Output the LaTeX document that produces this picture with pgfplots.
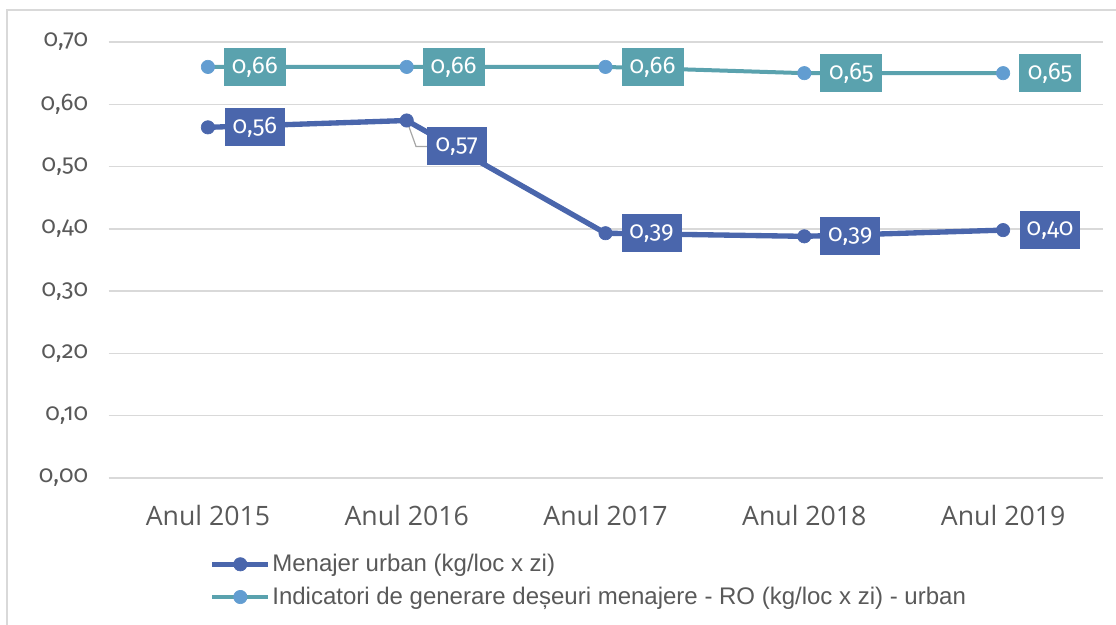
\documentclass[border=0pt]{standalone}
\usepackage{pgfplots}
\pgfplotsset{compat=1.18}
\usepackage{pgfplotstable}
\usepackage{fontspec}
\setmainfont{Liberation Sans}
\newfontfamily\numfont[Numbers=OldStyle]{Fira Sans}
\newfontfamily\catfont{Open Sans}
\definecolor{menblue}{HTML}{4A66AC}
\definecolor{indteal}{HTML}{5AA2AE}
\definecolor{indmark}{HTML}{629DD1}
\definecolor{gridgray}{HTML}{D9D9D9}
\definecolor{textgray}{HTML}{595959}
\definecolor{leadgray}{HTML}{A6A6A6}

\pgfplotstableread{
x y dx dy
0 0.563 35.25 0
1 0.574 37.5 -19.5
2 0.393 34.5 0
3 0.388 34.5 0
4 0.398 35.25 0
}\menajer
\pgfplotstableread{
x y dx dy
0 0.66 35.25 0
1 0.66 35.25 0
2 0.66 35.25 0
3 0.65 35.25 0
4 0.65 35.25 0
}\indicator

\begin{document}
\begin{tikzpicture}
\useasboundingbox (0,0) rectangle (837pt,-468pt);
\begin{scope}
\clip (0,0) rectangle (837pt,-468pt);
\draw[color=gridgray, line width=1.1pt] (5.25pt,-480pt) -- (5.25pt,-7.5pt) -- (850pt,-7.5pt);
\end{scope}
\begin{axis}[
  at={(81.375pt,-358.5pt)}, anchor=south west,
  scale only axis, width=745.5pt, height=327pt,
  xmin=-0.5, xmax=4.5, ymin=0, ymax=0.7,
  axis line style={draw=none},
  major tick style={draw=none},
  ytick={0,0.1,0.2,0.3,0.4,0.5,0.6,0.7},
  ymajorgrids,
  grid style={color=gridgray, line width=1.1pt},
  xtick={0,1,2,3,4},
  xticklabels={Anul 2015,Anul 2016,Anul 2017,Anul 2018,Anul 2019},
  xticklabel style={font=\catfont\fontsize{20}{23}\selectfont, text=textgray, anchor=north, inner sep=0pt, yshift=-20.5pt},
  yticklabel style={font=\numfont\fontsize{18}{21}\selectfont, text=textgray, anchor=east, inner sep=0pt, xshift=-15pt},
  clip=false,
  legend style={at={(0.1015,-0.172)}, anchor=north west, draw=none, fill=none, inner sep=0pt,
    row sep=8pt, column sep=0pt, cells={anchor=west},
    nodes={inner sep=1pt, text=textgray},
    font=\fontsize{18}{20}\selectfont},
  legend image code/.code={\draw[mark repeat=2,mark phase=2] plot coordinates {(0pt,0pt) (21pt,0pt) (42pt,0pt)};},
  /pgf/number format/fixed,
  /pgf/number format/fixed zerofill,
  /pgf/number format/precision=2,
  /pgf/number format/use comma,
  /pgf/number format/assume math mode=true,
]
\draw[color=leadgray, line width=0.9pt] (axis cs:1,0.574) -- ++(7pt,-19.5pt) -- ++(8.5pt,0pt);
\addplot[color=menblue, line width=4pt, mark=*, mark size=5pt,
  mark options={fill=menblue, draw=menblue, line width=0.5pt},
  point meta=explicit,
  visualization depends on={\thisrow{dx} \as \dx},
  visualization depends on={\thisrow{dy} \as \dy},
  nodes near coords,
  every node near coord/.append style={anchor=center, xshift=\dx pt, yshift=\dy pt,
    fill=menblue, text=white, font=\numfont\fontsize{18}{21}\selectfont,
    minimum width=45pt, minimum height=28.5pt, inner sep=0pt},
] table[x=x, y=y, meta=y] {\menajer};
\addlegendentry{Menajer urban (kg/loc x zi)}
\addplot[color=indteal, line width=3pt, mark=*, mark size=5pt,
  mark options={fill=indmark, draw=indmark, line width=0.5pt},
  point meta=explicit,
  visualization depends on={\thisrow{dx} \as \dx},
  visualization depends on={\thisrow{dy} \as \dy},
  nodes near coords,
  every node near coord/.append style={anchor=center, xshift=\dx pt, yshift=\dy pt,
    fill=indteal, text=white, font=\numfont\fontsize{18}{21}\selectfont,
    minimum width=46.5pt, minimum height=28.5pt, inner sep=0pt},
] table[x=x, y=y, meta=y] {\indicator};
\addlegendentry{Indicatori de generare deșeuri menajere - RO (kg/loc x zi) - urban}
\end{axis}
\end{tikzpicture}
\end{document}
